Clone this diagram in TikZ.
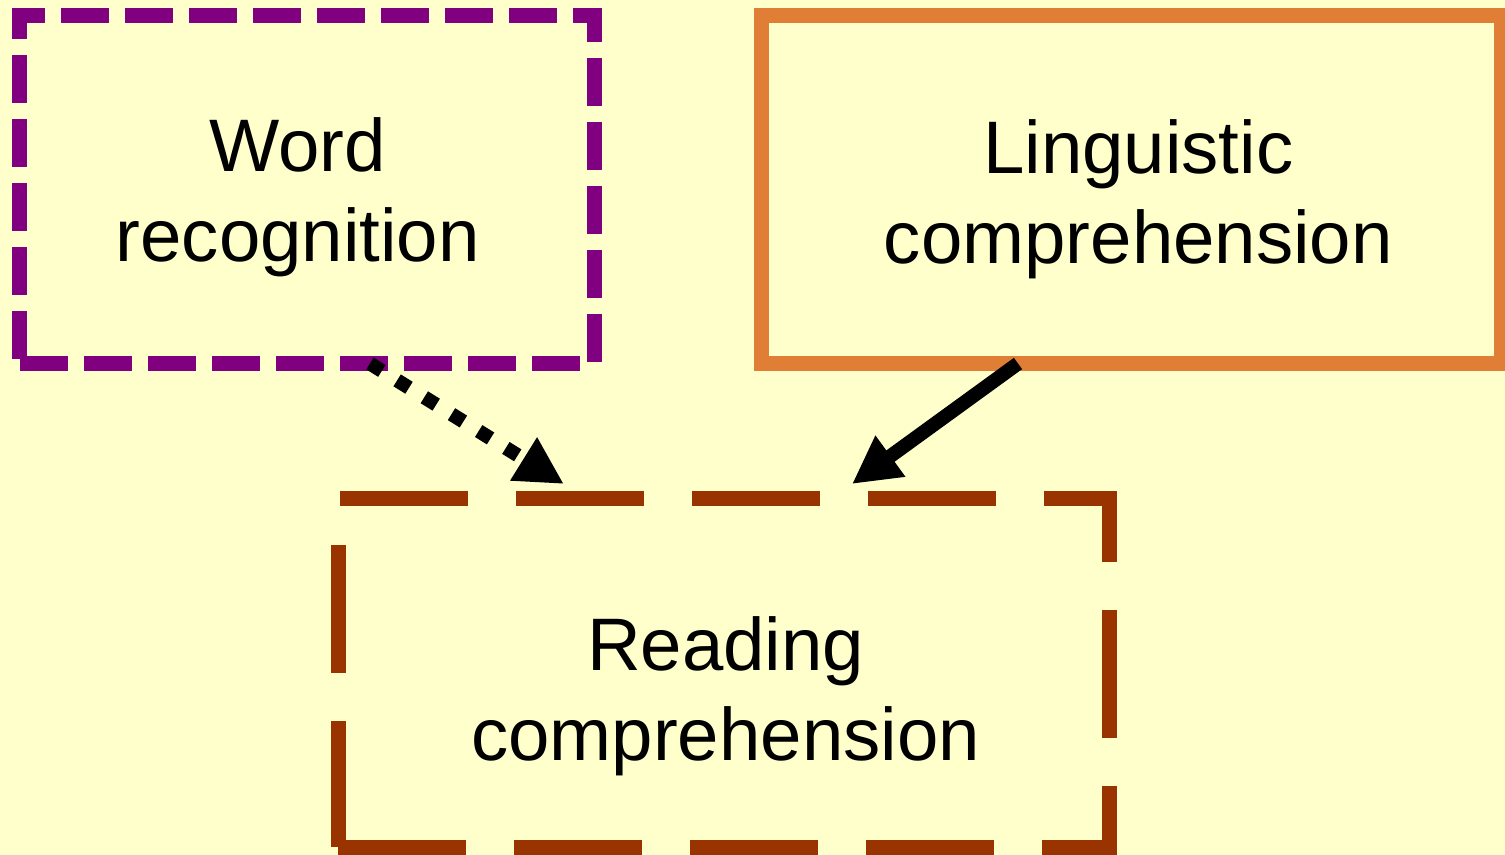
\documentclass[tikz,border=0pt]{standalone}
\usepackage{fontspec}
\setmainfont{Liberation Sans}
\usetikzlibrary{arrows.meta}
\definecolor{bgc}{HTML}{FFFFCC}
\definecolor{purp}{HTML}{800080}
\definecolor{oran}{HTML}{E07E36}
\definecolor{brwn}{HTML}{993300}
\begin{document}
\begin{tikzpicture}[x=0.5pt,y=-0.5pt,
  boxbase/.style={rectangle, inner sep=0pt, outer sep=0pt, line width=7.5pt},
  wordbox/.style={boxbase, draw=purp, dash pattern=on 24pt off 8pt, minimum width=287.35pt, minimum height=173.75pt},
  lingbox/.style={boxbase, draw=oran, minimum width=370pt, minimum height=173.75pt},
  readbox/.style={boxbase, draw=brwn, dash pattern=on 64pt off 24pt, minimum width=385.5pt, minimum height=174pt},
  lbl/.style={align=center, inner sep=0pt, font=\fontsize{37.2}{45}\selectfont},
  conn/.style={line width=7pt, -{Triangle[length=23.75pt,width=23.75pt]}},
  dotconn/.style={conn, dash pattern=on 7pt off 9pt}
]
\fill[bgc] (0,0) rectangle (1505,855);
\useasboundingbox (0,0) rectangle (1505,855);

\node[wordbox] (word) at (307.15,189.75) {};
\node[lingbox] (ling) at (1131.5,189.75) {};
\node[readbox] (read) at (723.5,673) {};

\node[lbl] (wordtxt) at (297.8,197.5) {Word\\recognition};
\node[lbl] (lingtxt) at (1138.3,199) {Linguistic\\comprehension};
\node[lbl] (readtxt) at (725.6,695.8) {Reading\\comprehension};

\draw[dotconn] ([xshift=31.4pt]word.south) -- ([xshift=-79.8pt,yshift=7.5pt]read.north);
\draw[conn] ([xshift=-56.75pt]ling.south) -- ([xshift=64.25pt,yshift=7.5pt]read.north);
\end{tikzpicture}
\end{document}
